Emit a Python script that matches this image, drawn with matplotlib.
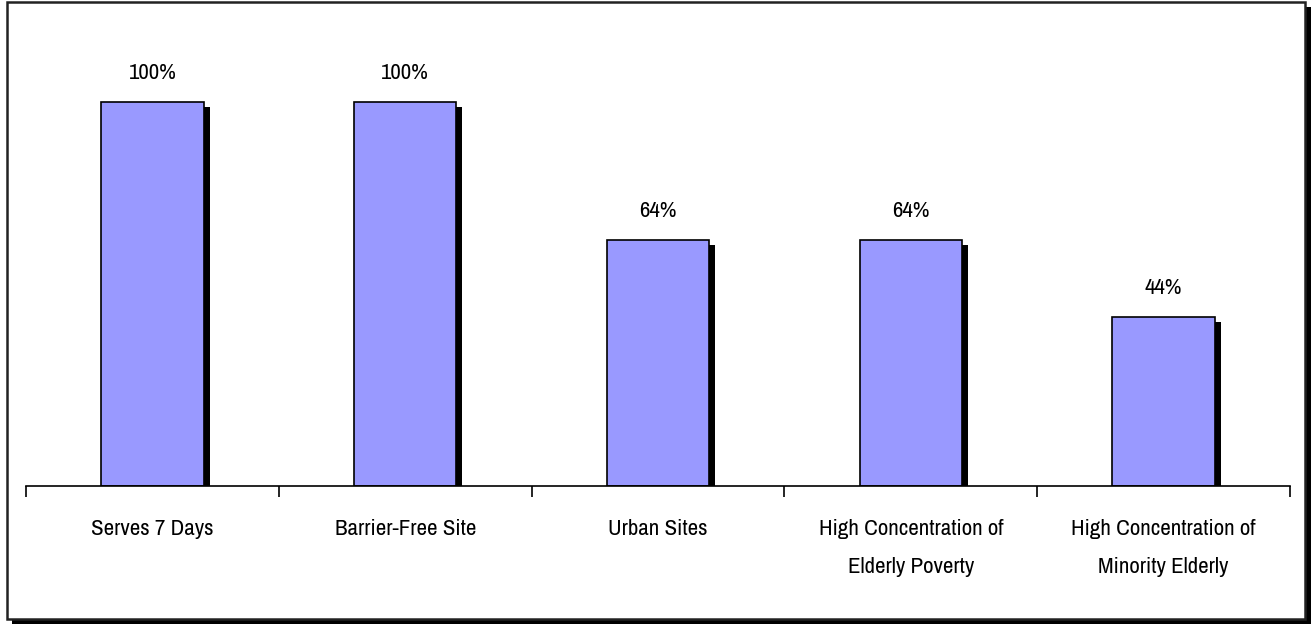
import matplotlib
matplotlib.use("Agg")
import matplotlib.pyplot as plt
from matplotlib.patches import Rectangle
from matplotlib.transforms import ScaledTranslation

categories = ["Serves 7 Days", "Barrier-Free Site", "Urban Sites",
              "High Concentration of\nElderly Poverty",
              "High Concentration of\nMinority Elderly"]
values = [100, 100, 64, 64, 44]
value_labels = ["100%", "100%", "64%", "64%", "44%"]

plt.rcParams['font.family'] = ['Archivo Narrow', 'DejaVu Sans']

W, H = 1312, 624
fig = plt.figure(figsize=(W / 100, H / 100), dpi=100)

# outer frame with drop shadow (pixel coords, y from top)
def px_rect(x0, y0, x1, y1, **kw):
    return Rectangle((x0 / W, 1 - y1 / H), (x1 - x0) / W, (y1 - y0) / H,
                     transform=fig.transFigure, **kw)

fig.patches.append(px_rect(12, 7, 1311, 624, facecolor="black", edgecolor="none", zorder=0))
fig.patches.append(px_rect(7, 2, 1305, 619, facecolor="white", edgecolor="#222222",
                           linewidth=1.8, zorder=1))

ax_left, ax_right, ax_bottom, ax_top = 26, 1290, 486, 30
ax = fig.add_axes([ax_left / W, 1 - ax_bottom / H, (ax_right - ax_left) / W,
                   (ax_bottom - ax_top) / H])
ax.set_zorder(2)
ax.patch.set_visible(False)

x = list(range(len(categories)))
scale = 3.84  # px per percent
ax.set_xlim(-0.5, len(categories) - 0.5)
ax.set_ylim(0, (ax_bottom - ax_top) / scale)

shadow = ax.transData + ScaledTranslation(6 / 100, -5 / 100, fig.dpi_scale_trans)
ax.bar(x, values, width=0.405, color="black", edgecolor="none", transform=shadow, zorder=1)
ax.bar(x, values, width=0.405, color="#9999FF", edgecolor="black", linewidth=1.2, zorder=2)

for xi, v, lab in zip(x, values, value_labels):
    ax.annotate(lab, (xi, v), xytext=(0, 21), textcoords="offset points",
                ha="center", va="center", fontsize=16.5)

for s in ["top", "right", "left"]:
    ax.spines[s].set_visible(False)
ax.spines["bottom"].set_linewidth(1.2)
ax.spines["bottom"].set_zorder(3)
ax.set_yticks([])

ax.set_xticks([i - 0.5 for i in range(len(categories) + 1)])
ax.set_xticklabels([])
ax.tick_params(axis="x", which="major", length=8, width=1.2, direction="out")
ax.set_xticks(x, minor=True)
ax.set_xticklabels(categories, minor=True, fontsize=16.5, linespacing=2.1, va="top")
ax.tick_params(axis="x", which="minor", length=0, pad=24)

fig.savefig("out.png", dpi=100)
